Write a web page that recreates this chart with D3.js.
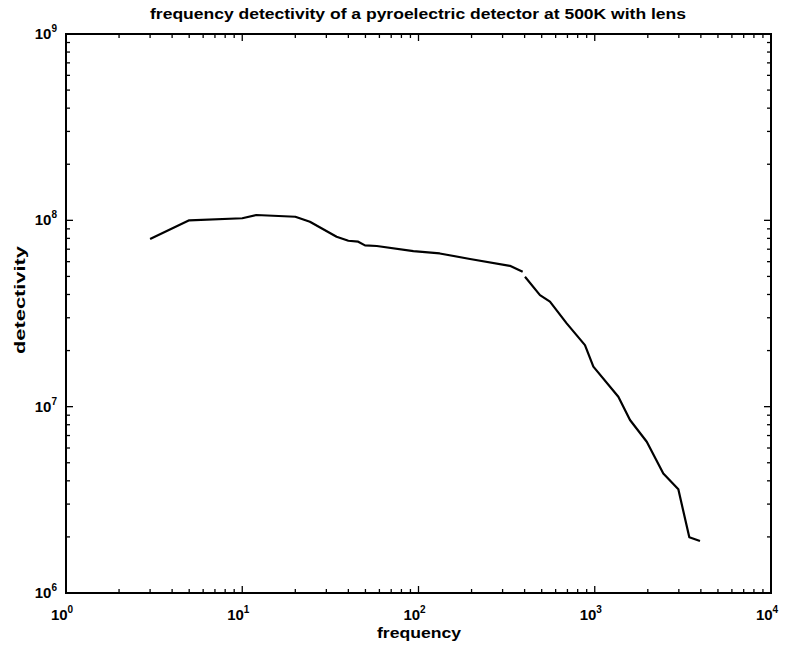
<!DOCTYPE html>
<html><head><meta charset="utf-8">
<script src="https://cdn.jsdelivr.net/npm/d3@7"></script>
<style>
body{margin:0;background:#fff;}
svg{display:block;}
text{font-family:"Liberation Sans",Arial,sans-serif;font-weight:bold;fill:#000;}
</style></head>
<body><svg id="c" width="787" height="649"></svg>
<script>
// Data
const titleText = "frequency detectivity of a pyroelectric detector at 500K with lens";
const xLabel = "frequency";
const yLabel = "detectivity";
const xDomain = [1, 1e4];
const yDomain = [1e6, 1e9];
const xTickExps = [0, 1, 2, 3, 4];
const yTickExps = [6, 7, 8, 9];
// segment 1 (low frequency part)
const freq1 = [3, 5, 10, 12, 20, 24.2, 34.3, 40, 45.5, 49.7, 58, 93.5, 132, 196, 330, 390];
const det1  = [7.94e7, 1.0e8, 1.026e8, 1.068e8, 1.045e8, 9.83e7, 8.16e7, 7.77e7, 7.68e7, 7.34e7, 7.28e7, 6.84e7, 6.64e7, 6.2e7, 5.7e7, 5.3e7];
// segment 2 (high frequency part)
const freq2 = [402, 489, 557, 693, 880, 982, 1361, 1585, 1973, 2449, 2980, 3440, 3955];
const det2  = [4.98e7, 3.97e7, 3.66e7, 2.8e7, 2.14e7, 1.64e7, 1.13e7, 8.48e6, 6.48e6, 4.38e6, 3.6e6, 1.99e6, 1.9e6];

const L = 66, R = 771, T = 34, B = 593;
const svg = d3.select("#c");
const x = d3.scaleLog().domain(xDomain).range([L, R]);
const y = d3.scaleLog().domain(yDomain).range([B, T]);

// minor/major ticks
const g = svg.append("g").attr("stroke", "#000").attr("stroke-width", 1.3);
const xt = x.ticks();
xt.forEach(v => {
  const major = Math.abs(Math.log10(v) - Math.round(Math.log10(v))) < 1e-9;
  const len = major ? 7 : 4;
  const px = x(v);
  g.append("line").attr("x1", px).attr("x2", px).attr("y1", B).attr("y2", B - len);
  g.append("line").attr("x1", px).attr("x2", px).attr("y1", T).attr("y2", T + len);
});
const yt = y.ticks();
yt.forEach(v => {
  const major = Math.abs(Math.log10(v) - Math.round(Math.log10(v))) < 1e-9;
  const len = major ? 7 : 4;
  const py = y(v);
  g.append("line").attr("x1", L).attr("x2", L + len).attr("y1", py).attr("y2", py);
  g.append("line").attr("x1", R).attr("x2", R - len).attr("y1", py).attr("y2", py);
});
// box
svg.append("rect").attr("x", L).attr("y", T).attr("width", R - L).attr("height", B - T)
  .attr("fill", "none").attr("stroke", "#000").attr("stroke-width", 2);

// tick labels
xTickExps.forEach(e => {
  const t = svg.append("text").attr("x", x(Math.pow(10, e)) - 4).attr("y", 620)
    .attr("text-anchor", "middle").style("font-size", "15px");
  t.append("tspan").text("10");
  t.append("tspan").attr("dy", -7).style("font-size", "10px").text(e);
});
yTickExps.forEach(e => {
  const t = svg.append("text").attr("x", 57).attr("y", y(Math.pow(10, e)) + 5)
    .attr("text-anchor", "end").style("font-size", "15px");
  t.append("tspan").text("10");
  t.append("tspan").attr("dy", -7).style("font-size", "10px").text(e);
});

// data lines
const line = d3.line().x(d => x(d[0])).y(d => y(d[1]));
[[freq1, det1], [freq2, det2]].forEach(([f, d]) => {
  svg.append("path").datum(f.map((v, i) => [v, d[i]]))
    .attr("d", line).attr("fill", "none").attr("stroke", "#000")
    .attr("stroke-width", 2.2).attr("stroke-linejoin", "round");
});

// titles
svg.append("text").attr("x", 418).attr("y", 19).attr("text-anchor", "middle")
  .style("font-size", "14px").attr("textLength", 536).attr("lengthAdjust", "spacingAndGlyphs")
  .text(titleText);
svg.append("text").attr("x", 419).attr("y", 638).attr("text-anchor", "middle")
  .style("font-size", "14px").attr("textLength", 84).attr("lengthAdjust", "spacingAndGlyphs")
  .text(xLabel);
svg.append("text").attr("transform", "translate(25,300) rotate(-90)").attr("text-anchor", "middle")
  .style("font-size", "15px").attr("textLength", 108).attr("lengthAdjust", "spacingAndGlyphs")
  .text(yLabel);
</script></body></html>
